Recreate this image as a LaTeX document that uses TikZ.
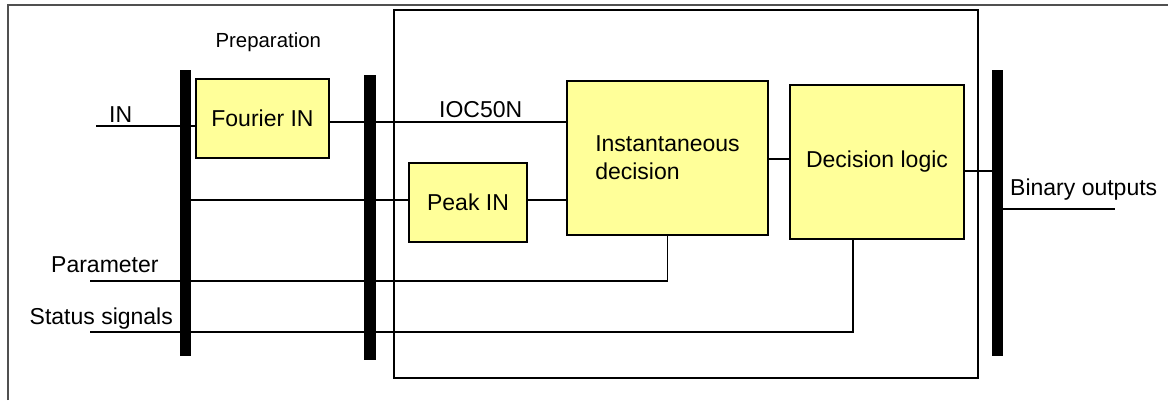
\documentclass[tikz,border=0pt]{standalone}
\usepackage{fontspec}
\setmainfont{Liberation Sans}
\definecolor{boxyellow}{RGB}{255,255,153}
\definecolor{framegray}{RGB}{80,80,80}
\tikzset{
  blk/.style={draw=black, line width=2pt, fill=boxyellow, inner sep=0pt, font=\fontsize{23}{27.7}\selectfont},
  busbar/.style={fill=black, draw=none, inner sep=0pt, minimum width=11.5pt},
  wire/.style={draw=black, line width=1.3pt},
  lbl/.style={inner sep=0pt, anchor=base west, font=\fontsize{23}{27.7}\selectfont},
}
\begin{document}
\begin{tikzpicture}[x=1pt, y=-1pt]
\useasboundingbox (0,0) rectangle (1168,400);
% outer frame (partially visible)
\draw[framegray, line width=2pt] (8,400) -- (8,5) -- (1168,5);
% middle frame
\draw[black, line width=1.4pt] (394,10) rectangle (978,378);

% bus bars
\node[busbar, minimum height=286pt] (bar1) at (185.5,213) {};
\node[busbar, minimum height=285pt] (bar2) at (370,217.5) {};
\node[busbar, minimum height=286pt] (bar3) at (997.5,213) {};

% blocks
\node[blk, minimum width=133pt, minimum height=79pt] (fourier) at (262.5,118.5) {Fourier IN};
\node[blk, minimum width=118pt, minimum height=79pt] (peak) at (468,202.5) {Peak IN};
\node[blk, minimum width=201pt, minimum height=154pt, align=left] (inst) at (667.5,158) {Instantaneous\\decision};
\node[blk, minimum width=174pt, minimum height=154pt] (dec) at (877,162) {Decision logic};

% free-end coordinates and levels
\coordinate (inEnd) at (96,126);
\coordinate (parEnd) at (90,281);
\coordinate (stEnd) at (90,332);
\coordinate (outEnd) at (1115,209);
\coordinate (yIOC) at (0,122);
\coordinate (yPeak) at (0,200);
\coordinate (yID) at (0,159);
\coordinate (yDO) at (0,171);
\coordinate (stTurn) at (853,239);

% connectors
\draw[wire] (inEnd) -- (fourier.west |- inEnd);
\draw[wire] (fourier.east |- yIOC) -- (inst.west |- yIOC);
\draw[wire] (bar1.east |- yPeak) -- (peak.west |- yPeak);
\draw[wire] (peak.east |- yPeak) -- (inst.west |- yPeak);
\draw[wire] (parEnd) -- (parEnd -| inst.south) -- (inst.south);
\draw[wire] (stEnd) -- (stEnd -| stTurn) -- (stTurn |- dec.south);
\draw[wire] (inst.east |- yID) -- (dec.west |- yID);
\draw[wire] (dec.east |- yDO) -- (bar3.west |- yDO);
\draw[wire] (bar3.east |- outEnd) -- (outEnd);

% labels
\node[inner sep=0pt, anchor=base, font=\fontsize{20.4}{24}\selectfont] (prep) at (268.3,47.5) {Preparation};
\node[lbl] (inlbl) at (109,122.3) {IN};
\node[lbl] (ioc) at (439,117.3) {IOC50N};
\node[lbl] (parlbl) at (51,272.7) {Parameter};
\node[lbl] (stlbl) at (29.5,324) {Status signals};
\node[lbl] (outlbl) at (1010,195) {Binary outputs};
\end{tikzpicture}
\end{document}
